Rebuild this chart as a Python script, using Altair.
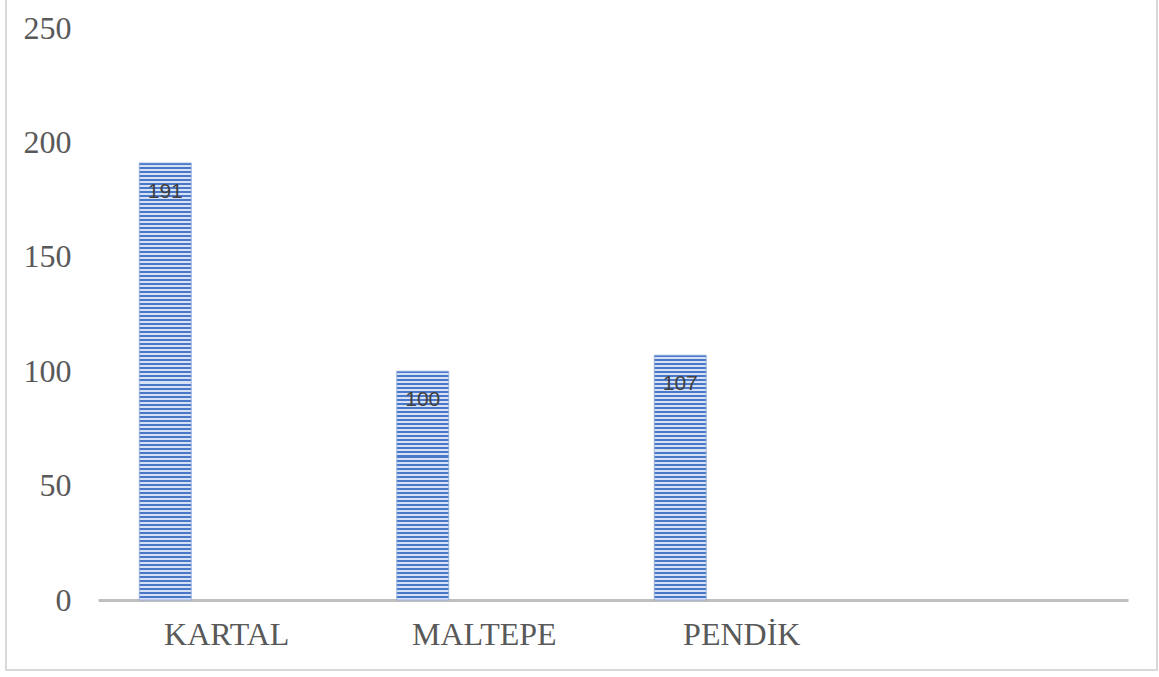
import altair as alt
import pandas as pd

categories = ["KARTAL", "MALTEPE", "PENDİK"]
values = [191, 100, 107]
domain_cats = ["KARTAL", "MALTEPE", "PENDİK", " "]
y_ticks = [0, 50, 100, 150, 200, 250]

df = pd.DataFrame({"cat": categories, "val": values})

W, H = 1030, 572
YMAX = 250
DARK = "#4a78c8"
LIGHT = "#d6e1f5"

x_enc = alt.X("cat:N", scale=alt.Scale(domain=domain_cats, paddingInner=0, paddingOuter=0),
              sort=domain_cats,
              axis=alt.Axis(title=None, labelAngle=0, labelFont="Liberation Serif", labelFontSize=32,
                            labelColor="#595959", ticks=False, domainColor="#bfbfbf", domainWidth=3,
                            labelPadding=19, labelBaseline="top"))
y_enc = alt.Y("val:Q", scale=alt.Scale(domain=[0, YMAX]),
              axis=alt.Axis(title=None, values=y_ticks, grid=False, ticks=False, domain=False,
                            labelFont="Liberation Serif", labelFontSize=32, labelColor="#595959",
                            labelPadding=27))

layers = []
for c, v in zip(categories, values):
    h = v * H / YMAX
    n = max(1, round(h / 4))
    stops = []
    for i in range(n):
        a = i / n
        b = (i + 0.5) / n
        e = (i + 1) / n
        stops += [alt.GradientStop(offset=a, color=DARK), alt.GradientStop(offset=b, color=DARK),
                  alt.GradientStop(offset=b, color=LIGHT), alt.GradientStop(offset=e, color=LIGHT)]
    grad = alt.Gradient(gradient="linear", x1=0, x2=0, y1=0, y2=1, stops=stops)
    layers.append(
        alt.Chart(df).transform_filter(alt.datum.cat == c)
        .mark_bar(width=52, xOffset=-61.5, color=grad, stroke="#8fa9dc", strokeWidth=0.8)
        .encode(x=x_enc, y=y_enc)
    )

labels = alt.Chart(df).mark_text(xOffset=-61.5, dy=35, baseline="alphabetic", align="center",
                                 font="Liberation Sans", fontSize=21, color="#404040").encode(
    x=x_enc, y=y_enc, text="val:Q")

border = alt.Chart(pd.DataFrame({"a": [0]})).mark_rect(
    fill=None, stroke="#d9d9d9", strokeWidth=2).encode(
    x=alt.value(-92), x2=alt.value(1059), y=alt.value(-29), y2=alt.value(642))

chart = alt.layer(border, *layers, labels).properties(
    width=W, height=H,
    padding={"left": 98, "top": 28, "right": 31, "bottom": 77},
    autosize=alt.AutoSizeParams(type="none"),
    background="white",
).configure_view(stroke=None)

chart.save("out.html", embed_options={"renderer": "svg", "actions": False})
